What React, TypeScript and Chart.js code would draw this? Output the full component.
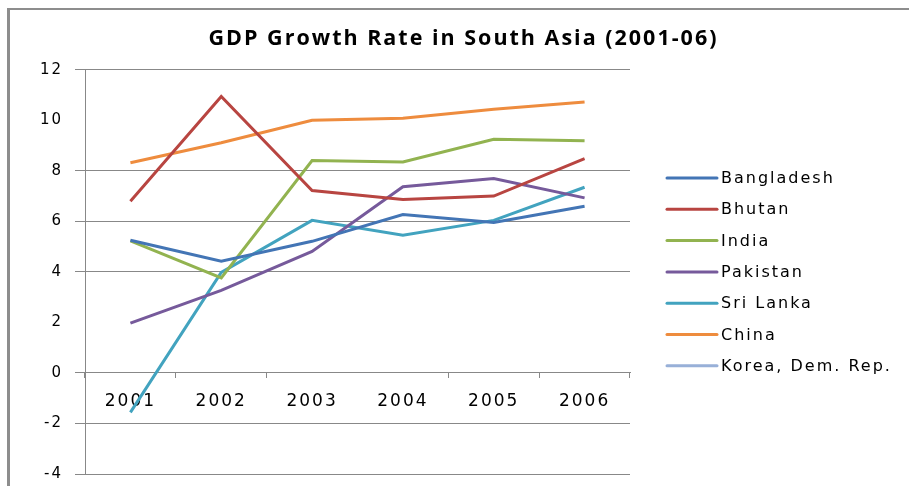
import React, { useEffect, useRef } from 'react';
import { Chart, registerables } from 'chart.js';

Chart.register(...registerables);

// ---- data ----
const years = ['2001', '2002', '2003', '2004', '2005', '2006'];
const bangladesh = [5.25, 4.42, 5.21, 6.27, 5.96, 6.6];
const bhutan = [6.8, 10.94, 7.22, 6.87, 7.0, 8.48];
const india = [5.23, 3.76, 8.41, 8.35, 9.25, 9.19];
const pakistan = [1.97, 3.27, 4.81, 7.37, 7.7, 6.93];
const sriLanka = [-1.56, 3.98, 6.04, 5.45, 6.04, 7.35];
const china = [8.32, 9.11, 10.0, 10.08, 10.44, 10.73];
const koreaDemRep: (number | null)[] = [null, null, null, null, null, null];

const seriesNames = ['Bangladesh', 'Bhutan', 'India', 'Pakistan', 'Sri Lanka', 'China', 'Korea, Dem. Rep.'];
const seriesValues = [bangladesh, bhutan, india, pakistan, sriLanka, china, koreaDemRep];
const seriesColors = ['#4375B5', '#B84541', '#92B350', '#765A9B', '#42A3BF', '#EE8C3E', '#98B0D8'];

const yMin = -4;
const yMax = 12;
const yStep = 2;
const hiddenGridValues = [10, 2];
const hiddenXTickIndex = 3;

const GRID = '#888888';
const TRANSPARENT = 'rgba(0,0,0,0)';

const spacingPlugin = {
  id: 'spacing',
  beforeDraw(chart: any) {
    chart.ctx.letterSpacing = '2px';
  },
};

const legendPlugin = {
  id: 'sideLegend',
  afterDraw(chart: any) {
    const ctx = chart.ctx;
    const area = chart.chartArea;
    const ds = chart.data.datasets;
    const n = ds.length;
    const rowGap = 31.3;
    const cy = (area.top + area.bottom) / 2;
    const lineX = 667;
    const lineLen = 50;
    const textX = 721;
    ctx.save();
    ctx.letterSpacing = '2px';
    ctx.font = '16px "DejaVu Sans"';
    ctx.textBaseline = 'middle';
    ctx.textAlign = 'left';
    for (let i = 0; i < n; i++) {
      const y = cy + (i - (n - 1) / 2) * rowGap;
      ctx.strokeStyle = ds[i].borderColor;
      ctx.lineWidth = 3;
      ctx.lineCap = 'round';
      ctx.beginPath();
      ctx.moveTo(lineX, y);
      ctx.lineTo(lineX + lineLen, y);
      ctx.stroke();
      ctx.fillStyle = '#000';
      ctx.fillText(ds[i].label, textX, y + 1);
    }
    ctx.restore();
  },
};

export default function App() {
  const canvasRef = useRef<HTMLCanvasElement | null>(null);

  useEffect(() => {
    if (!canvasRef.current) return;
    const chart = new Chart(canvasRef.current, {
      type: 'line',
      data: {
        labels: years,
        datasets: seriesNames.map((name, i) => ({
          label: name,
          data: seriesValues[i],
          borderColor: seriesColors[i],
          backgroundColor: seriesColors[i],
          borderWidth: 3,
          pointRadius: 0,
          pointHoverRadius: 0,
          tension: 0,
          fill: false,
          yAxisID: 'y',
        })),
      },
      options: {
        responsive: false,
        animation: false,
        layout: { padding: { left: 18, right: 0, top: 0, bottom: 12 } },
        plugins: {
          legend: { display: false },
          tooltip: { enabled: false },
          title: {
            display: true,
            text: 'GDP Growth Rate in South Asia (2001-06)',
            color: '#000',
            font: { family: 'Open Sans', size: 21.5, weight: 'bold', lineHeight: 1.2 },
            padding: { top: 26, bottom: 18 },
          },
        },
        scales: {
          x: {
            type: 'category',
            position: { y: 0 } as any,
            offset: true,
            afterFit: (s: any) => {
              s.height = 0;
            },
            grid: {
              display: true,
              drawOnChartArea: false,
              drawTicks: true,
              tickLength: 5,
              offset: true,
              color: GRID,
              tickColor: (c: any) => (c.index === hiddenXTickIndex ? TRANSPARENT : GRID),
            },
            border: { display: true, color: GRID, width: 1 },
            ticks: {
              color: '#000',
              font: { family: 'DejaVu Sans', size: 17 },
              padding: 13,
              maxRotation: 0,
            },
          },
          y: {
            type: 'linear',
            position: 'left',
            min: yMin,
            max: yMax,
            afterFit: (s: any) => {
              s.width = 67;
              s.paddingTop = 0;
              s.paddingBottom = 0;
            },
            ticks: {
              stepSize: yStep,
              color: '#000',
              font: { family: 'DejaVu Sans', size: 15 },
              padding: 12,
            },
            grid: {
              color: (c: any) => (c.tick && hiddenGridValues.includes(c.tick.value) ? TRANSPARENT : GRID),
              tickLength: 10,
              lineWidth: 1,
            },
            border: { display: true, color: GRID, width: 1 },
          },
          yR: {
            type: 'linear',
            position: 'right',
            display: true,
            afterFit: (s: any) => {
              s.width = 279;
              s.paddingTop = 0;
              s.paddingBottom = 0;
            },
            ticks: { display: false },
            grid: { display: false },
            border: { display: false },
          },
        },
      },
      plugins: [spacingPlugin, legendPlugin],
    });
    return () => chart.destroy();
  }, []);

  return (
    <div
      style={{
        position: 'fixed',
        left: 0,
        top: 0,
        width: 909,
        height: 486,
        background: '#fff',
        overflow: 'hidden',
      }}
    >
      <canvas
        ref={canvasRef}
        width={909}
        height={486}
        style={{ position: 'absolute', left: 0, top: 0, width: 909, height: 486, display: 'block' }}
      />
      <div
        style={{
          position: 'absolute',
          left: 7,
          top: 8,
          width: 910,
          height: 490,
          borderTop: '2px solid #8d8d8d',
          borderLeft: '3px solid #8d8d8d',
          pointerEvents: 'none',
        }}
      />
    </div>
  );
}
